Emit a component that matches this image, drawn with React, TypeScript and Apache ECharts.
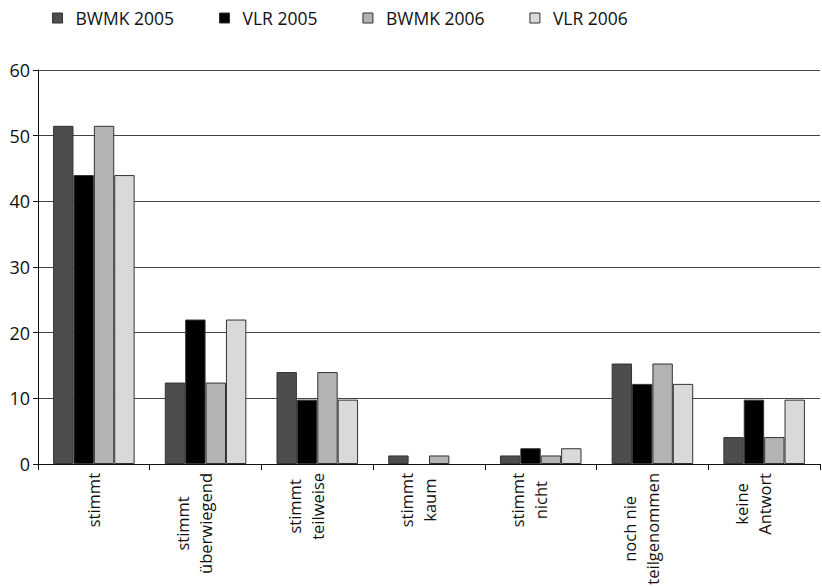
import React, { useEffect, useRef } from "react";
import * as echarts from "echarts";

const categories = [
  "stimmt",
  "stimmt\nüberwiegend",
  "stimmt\nteilweise",
  "stimmt\nkaum",
  "stimmt\nnicht",
  "noch nie\nteilgenommen",
  "keine\nAntwort",
];
const seriesNames = ["BWMK 2005", "VLR 2005", "BWMK 2006", "VLR 2006"];
const bwmk2005 = [51.5, 12.4, 14.0, 1.3, 1.3, 15.3, 4.1];
const vlr2005 = [44.0, 22.0, 9.8, 0, 2.4, 12.2, 9.8];
const bwmk2006 = [51.5, 12.4, 14.0, 1.3, 1.3, 15.3, 4.1];
const vlr2006 = [44.0, 22.0, 9.8, 0, 2.4, 12.2, 9.8];
const colors = ["#4d4d4d", "#000000", "#b3b3b3", "#d9d9d9"];

export default function App() {
  const ref = useRef<HTMLDivElement>(null);
  useEffect(() => {
    if (!ref.current) return;
    const chart = echarts.init(ref.current, undefined, { renderer: "svg" });
    const font = "'Open Sans', sans-serif";
    const data = [bwmk2005, vlr2005, bwmk2006, vlr2006];
    chart.setOption({
      animation: false,
      color: colors,
      legend: {
        top: 4,
        left: 47,
        itemWidth: 10,
        itemHeight: 10,
        itemGap: 45,
        icon: "rect",
        data: seriesNames,
        itemStyle: { borderColor: "#333", borderWidth: 1 },
        textStyle: {
          fontFamily: font,
          fontSize: 17.5,
          color: "#111",
          padding: [0, 0, 0, 8],
        },
      },
      grid: {
        left: 38,
        right: 2,
        top: 70,
        bottom: 123,
        containLabel: false,
        outerBoundsMode: "none",
      },
      xAxis: {
        type: "category",
        data: categories,
        axisLine: { lineStyle: { color: "#111", width: 1 } },
        axisTick: { show: true, length: 6, lineStyle: { color: "#111" } },
        axisLabel: {
          rotate: 90,
          margin: 9,
          interval: 0,
          fontFamily: font,
          fontSize: 16.5,
          color: "#111",
          lineHeight: 23,
          formatter: (v: string) => {
            const lines = v.split("\n").map((s) => "{a|" + s + "}");
            if (lines.length === 2) lines.push("{a| }");
            return lines.join("\n");
          },
          rich: {
            a: { align: "center", fontFamily: font, fontSize: 16.5, color: "#111", lineHeight: 23 },
          },
        },
      },
      yAxis: {
        type: "value",
        min: 0,
        max: 60,
        interval: 10,
        axisLine: { show: true, lineStyle: { color: "#111", width: 1 } },
        axisTick: { show: true, length: 5, lineStyle: { color: "#111" } },
        axisLabel: { fontFamily: font, fontSize: 18, color: "#111", margin: 8 },
        splitLine: { show: true, lineStyle: { color: "#444", width: 1 } },
      },
      series: seriesNames.map((name, i) => ({
        name,
        type: "bar",
        data: data[i].map((v) =>
          v === 0 ? { value: v, itemStyle: { borderWidth: 0 } } : v
        ),
        barGap: "0%",
        barCategoryGap: "27%",
        itemStyle: { color: colors[i], borderColor: "#333", borderWidth: 1 },
      })),
    });
    return () => chart.dispose();
  }, []);
  return (
    <div
      ref={ref}
      style={{ position: "absolute", left: 0, top: 0, width: 822, height: 587 }}
    />
  );
}
